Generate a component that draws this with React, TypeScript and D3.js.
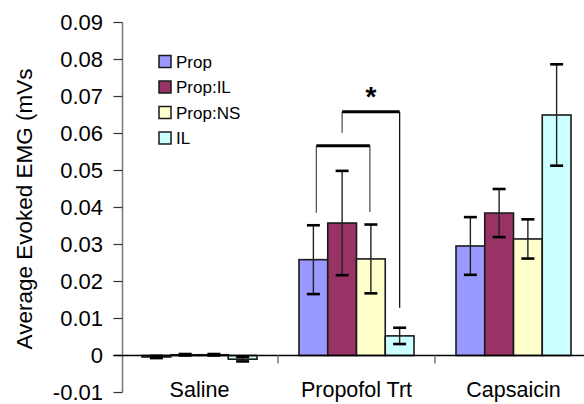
import React from "react";
import * as d3 from "d3";

const categories = ["Saline", "Propofol Trt", "Capsaicin"];
const seriesNames = ["Prop", "Prop:IL", "Prop:NS", "IL"];
const seriesColors = ["#9999FF", "#993366", "#FFFFCC", "#CCFFFF"];
// values[series][category]
const propValues = [-0.0004, 0.0259, 0.0296];
const propILValues = [0.0002, 0.0358, 0.0385];
const propNSValues = [0.0002, 0.0261, 0.0315];
const ilValues = [-0.001, 0.0053, 0.065];
const propErr = [0.0003, 0.0093, 0.0078];
const propILErr = [0.0002, 0.0141, 0.0065];
const propNSErr = [0.0002, 0.0093, 0.0053];
const ilErr = [0.0006, 0.0022, 0.0137];
const yTicks = [-0.01, 0, 0.01, 0.02, 0.03, 0.04, 0.05, 0.06, 0.07, 0.08, 0.09];
const yTickLabels = ["-0.01", "0", "0.01", "0.02", "0.03", "0.04", "0.05", "0.06", "0.07", "0.08", "0.09"];
// significance brackets in the Propofol Trt group: series indices, bracket level, drop-line ends
const brackets = [
  { category: 1, from: 0, to: 2, y: 0.0567, leftEnd: 0.0386, rightEnd: 0.0388 },
  { category: 1, from: 1, to: 3, y: 0.0659, leftEnd: 0.0602, rightEnd: 0.0129 },
];
const starLabel = "*";

const values = [propValues, propILValues, propNSValues, ilValues];
const errors = [propErr, propILErr, propNSErr, ilErr];

const W = 584;
const H = 404;
const FONT = "'Liberation Sans', Arial, sans-serif";

export default function App() {
  const axisX = 122.5;
  const x = d3.scaleBand<string>().domain(categories).range([121, 592]).padding(0);
  const inner = d3
    .scaleBand<string>()
    .domain(seriesNames)
    .range([21, x.bandwidth() - 21])
    .padding(0);
  const y = d3.scaleLinear().domain([-0.01, 0.09]).range([392.5, 22.5]);
  const y0 = y(0);
  const bw = inner.bandwidth();
  const capW = 13;

  const barCenter = (ci: number, si: number) =>
    (x(categories[ci]) as number) + (inner(seriesNames[si]) as number) + bw / 2;

  return (
    <svg width={W} height={H} style={{ position: "absolute", left: 0, top: 0, background: "#fff" }}>
      {/* y axis */}
      <line x1={axisX} x2={axisX} y1={y(0.09)} y2={y(-0.01)} stroke="#777" strokeWidth={1.5} />
      {yTicks.map((t, i) => (
        <g key={i}>
          <line x1={axisX - 9} x2={axisX} y1={y(t)} y2={y(t)} stroke="#333" strokeWidth={1.2} />
          <text
            x={103}
            y={y(t)}
            dy="0.36em"
            textAnchor="end"
            fontFamily={FONT}
            fontSize={22}
            fill="#000"
          >
            {yTickLabels[i]}
          </text>
        </g>
      ))}
      <text
        transform={`translate(32,${209}) rotate(-90)`}
        textAnchor="middle"
        fontFamily={FONT}
        fontSize={22.5}
        fill="#000"
      >
        Average Evoked EMG (mVs
      </text>

      {/* bars */}
      {categories.map((c, ci) => (
        <g key={c} transform={`translate(${x(c)},0)`}>
          {seriesNames.map((s, si) => {
            const v = values[si][ci];
            const top = y(Math.max(0, v));
            const bot = y(Math.min(0, v));
            return (
              <rect
                key={s}
                x={inner(s)}
                y={top}
                width={bw}
                height={Math.max(0.5, bot - top)}
                fill={seriesColors[si]}
                stroke="#1a1a1a"
                strokeWidth={1.6}
              />
            );
          })}
        </g>
      ))}

      {/* zero line */}
      <line x1={axisX - 9} x2={W} y1={y0} y2={y0} stroke="#000" strokeWidth={1.3} />
      {/* category ticks */}
      {categories.map((c, ci) =>
        ci > 0 ? (
          <line
            key={c}
            x1={x(c) as number}
            x2={x(c) as number}
            y1={y0}
            y2={y0 + 8}
            stroke="#777"
            strokeWidth={1.5}
          />
        ) : null
      )}

      {/* error bars */}
      {categories.map((c, ci) =>
        seriesNames.map((s, si) => {
          const v = values[si][ci];
          const e = errors[si][ci];
          const cx = barCenter(ci, si);
          return (
            <g key={c + s}>
              <line x1={cx} x2={cx} y1={y(v + e)} y2={y(v - e)} stroke="#222" strokeWidth={1.4} />
              <line x1={cx - capW / 2} x2={cx + capW / 2} y1={y(v + e)} y2={y(v + e)} stroke="#000" strokeWidth={2.6} />
              <line x1={cx - capW / 2} x2={cx + capW / 2} y1={y(v - e)} y2={y(v - e)} stroke="#000" strokeWidth={2.6} />
            </g>
          );
        })
      )}

      {/* significance brackets */}
      {brackets.map((b, i) => {
        const xl = barCenter(b.category, b.from) + (i === 0 ? 3 : 0);
        const xr = barCenter(b.category, b.to) - (i === 0 ? 1 : 0);
        return (
          <g key={i}>
            <line x1={xl} x2={xl} y1={y(b.y)} y2={y(b.leftEnd)} stroke="#555" strokeWidth={1.3} />
            <line x1={xr} x2={xr} y1={y(b.y)} y2={y(b.rightEnd)} stroke={i === 0 ? "#555" : "#111"} strokeWidth={1.3} />
            <line x1={xl} x2={xr} y1={y(b.y)} y2={y(b.y)} stroke="#000" strokeWidth={3} />
          </g>
        );
      })}
      <text
        x={371}
        y={y(0.0659) - 6}
        textAnchor="middle"
        fontFamily={FONT}
        fontSize={28}
        fontWeight="bold"
        fill="#000"
      >
        {starLabel}
      </text>

      {/* category labels */}
      {categories.map((c) => (
        <text
          key={c}
          x={(x(c) as number) + x.bandwidth() / 2}
          y={397}
          textAnchor="middle"
          fontFamily={FONT}
          fontSize={21.5}
          fill="#000"
        >
          {c}
        </text>
      ))}

      {/* legend */}
      {seriesNames.map((s, si) => (
        <g key={s} transform={`translate(159,${55.5 + si * 25.5})`}>
          <rect x={0} y={0} width={12} height={12} fill={seriesColors[si]} stroke="#1a1a1a" strokeWidth={1.5} />
          <text x={17} y={6} dy="0.36em" fontFamily={FONT} fontSize={17} fill="#000">
            {s}
          </text>
        </g>
      ))}
    </svg>
  );
}
